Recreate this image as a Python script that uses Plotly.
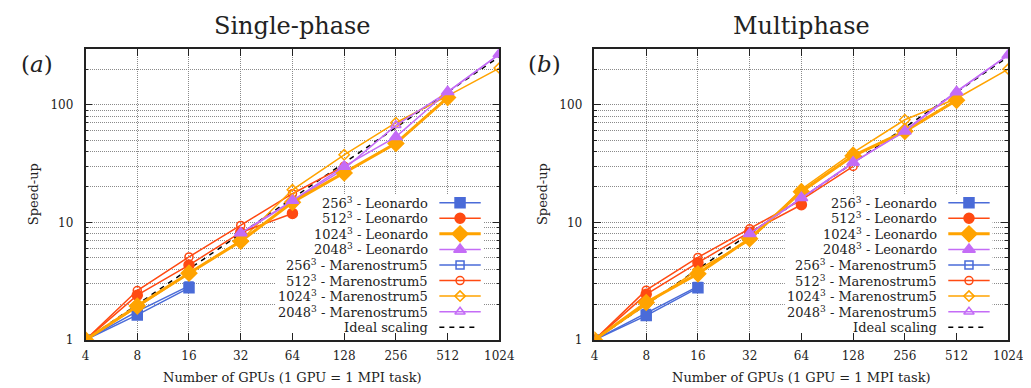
import plotly.graph_objects as go
import math

# ---------------- data ----------------
GPUS = [4, 8, 16, 32, 64, 128, 256, 512, 1024]
X_TICK_LABELS = ["4", "8", "16", "32", "64", "128", "256", "512", "1024"]
Y_TICKS = [1, 10, 100]
Y_MINOR = [2, 3, 4, 5, 6, 7, 8, 9, 20, 30, 40, 50, 60, 70, 80, 90, 200]

IDEAL_X = [4, 8, 16, 32, 64, 128, 256, 512, 1024]
IDEAL_Y = [1, 2, 4, 8, 16, 32, 64, 128, 256]

# Single-phase
sp_x_256 = [4, 8, 16]
sp_256_leo = [1, 1.63, 2.77]
sp_256_mn5 = [1, 1.75, 2.88]
sp_x_512_leo = [4, 8, 16, 32, 64]
sp_512_leo = [1, 2.40, 4.33, 8.2, 11.9]
sp_x_512_mn5 = [4, 8, 16, 32, 64, 128]
sp_512_mn5 = [1, 2.63, 5.08, 9.4, 17.5, 30.0]
sp_x_1024_leo = [4, 8, 16, 32, 64, 128, 256, 512]
sp_1024_leo = [1, 1.94, 3.69, 6.9, 14.8, 26.3, 46.9, 115]
sp_x_1024_mn5 = [4, 8, 16, 32, 64, 128, 256, 512, 1024]
sp_1024_mn5 = [1, 1.90, 3.70, 7.0, 18.9, 37.5, 70.3, 119, 205]
sp_x_2048 = [32, 64, 128, 256, 512, 1024]
sp_2048_leo = [8.1, 15.3, 29.9, 53.3, 129, 270]
sp_2048_mn5 = [8.0, 15.0, 28.5, 66.8, 128, 268]

# Multiphase
mp_x_256 = [4, 8, 16]
mp_256_leo = [1, 1.61, 2.77]
mp_256_mn5 = [1, 1.68, 2.85]
mp_x_512_leo = [4, 8, 16, 32, 64]
mp_512_leo = [1, 2.44, 4.54, 8.25, 14.1]
mp_x_512_mn5 = [4, 8, 16, 32, 64, 128]
mp_512_mn5 = [1, 2.65, 5.03, 8.8, 15.5, 29.9]
mp_x_1024_leo = [4, 8, 16, 32, 64, 128, 256, 512]
mp_1024_leo = [1, 2.08, 3.65, 7.26, 18.2, 36.8, 59.4, 109]
mp_x_1024_mn5 = [4, 8, 16, 32, 64, 128, 256, 512, 1024]
mp_1024_mn5 = [1, 2.00, 3.95, 7.0, 19.1, 39.2, 74.5, 113, 201]
mp_x_2048 = [32, 64, 128, 256, 512, 1024]
mp_2048_leo = [8.0, 16.2, 32.4, 59.4, 128.5, 265]
mp_2048_mn5 = [8.0, 16.0, 32.0, 60.5, 130, 265]

LEGEND_LABELS = [
    "256<sup>3</sup> - Leonardo",
    "512<sup>3</sup> - Leonardo",
    "1024<sup>3</sup> - Leonardo",
    "2048<sup>3</sup> - Leonardo",
    "256<sup>3</sup> - Marenostrum5",
    "512<sup>3</sup> - Marenostrum5",
    "1024<sup>3</sup> - Marenostrum5",
    "2048<sup>3</sup> - Marenostrum5",
    "Ideal scaling",
]

# ---------------- styles ----------------
BLUE = "#4a6bd8"
RED = "#ff4a12"
ORANGE = "#ffa300"
PURPLE = "#c46cf6"
FONT = "DejaVu Serif"
TXT = "#222"
GRID = "#8a8a8a"

STYLES = [
    dict(color=BLUE, symbol="square", size=10, width=1.5),
    dict(color=RED, symbol="circle", size=10, width=1.5),
    dict(color=ORANGE, symbol="diamond", size=12, width=3),
    dict(color=PURPLE, symbol="triangle-up", size=11, width=1.5),
    dict(color=BLUE, symbol="square-open", size=8, width=1.5),
    dict(color=RED, symbol="circle-open", size=8, width=1.5),
    dict(color=ORANGE, symbol="diamond-open", size=8, width=1.5),
    dict(color=PURPLE, symbol="triangle-up-open", size=9, width=1.5),
]

W, H = 1031, 388
PLOT_TOP, PLOT_BOT = 42, 338
PANELS = [
    dict(left=75, right=497, title="Single-phase", tag="(<i>a</i>)", tagx=25,
         series=[(sp_x_256, sp_256_leo), (sp_x_512_leo, sp_512_leo),
                 (sp_x_1024_leo, sp_1024_leo), (sp_x_2048, sp_2048_leo),
                 (sp_x_256, sp_256_mn5), (sp_x_512_mn5, sp_512_mn5),
                 (sp_x_1024_mn5, sp_1024_mn5), (sp_x_2048, sp_2048_mn5)]),
    dict(left=594, right=1016, title="Multiphase", tag="(<i>b</i>)", tagx=543,
         series=[(mp_x_256, mp_256_leo), (mp_x_512_leo, mp_512_leo),
                 (mp_x_1024_leo, mp_1024_leo), (mp_x_2048, mp_2048_leo),
                 (mp_x_256, mp_256_mn5), (mp_x_512_mn5, mp_512_mn5),
                 (mp_x_1024_mn5, mp_1024_mn5), (mp_x_2048, mp_2048_mn5)]),
]

fig = go.Figure()
ydom = [1 - PLOT_BOT / H, 1 - PLOT_TOP / H]
annotations = []

XLOG = [math.log10(4), math.log10(1024)]
YTOP = 2 + (98.5 - PLOT_TOP) / 119.75


def frac_to_data(fx, fy):
    """domain fraction -> data value on the log axes"""
    return (10 ** (XLOG[0] + fx * (XLOG[1] - XLOG[0])), 10 ** (fy * YTOP))


for i, p in enumerate(PANELS):
    xd = [p["left"] / W, p["right"] / W]
    xa = "x" if i == 0 else "x2"
    ya = "y" if i == 0 else "y2"
    lxa = "x%d" % (3 + i)
    lya = "y%d" % (3 + i)
    ax_common = dict(
        showline=True, linecolor="#222", linewidth=1.6, mirror="ticks",
        ticks="inside", ticklen=7, tickwidth=1, tickcolor="#222",
        showgrid=True, gridcolor=GRID, griddash="1px,1px", gridwidth=1,
        zeroline=False, tickfont=dict(family=FONT, size=12, color=TXT),
    )
    layout_x = dict(type="log", domain=xd, range=XLOG,
                    tickvals=GPUS, ticktext=X_TICK_LABELS, anchor=ya,
                    ticklabelstandoff=4, **ax_common)
    layout_y = dict(type="log", domain=ydom, range=[0, YTOP], tickvals=Y_TICKS,
                    ticktext=[str(v) for v in Y_TICKS], anchor=xa,
                    ticklabelstandoff=8,
                    minor=dict(tickvals=Y_MINOR, ticks="inside", ticklen=3,
                               showgrid=True, gridcolor=GRID, griddash="1px,1px",
                               tickcolor="#222"),
                    **ax_common)
    fig.update_layout({("xaxis" if i == 0 else "xaxis2"): layout_x,
                       ("yaxis" if i == 0 else "yaxis2"): layout_y})
    # overlay axes for the legend (no background of their own)
    fig.update_layout({
        "xaxis%d" % (3 + i): dict(range=[0, 1], visible=False, anchor=lya,
                                   overlaying=xa, fixedrange=True),
        "yaxis%d" % (3 + i): dict(range=[0, 1], visible=False, anchor=lxa,
                                   overlaying=ya, fixedrange=True),
    })

    # legend box: white fill drawn first (above grid, below data)
    bx0, by0 = frac_to_data(0.46, 0.015)
    bx1, by1 = frac_to_data(0.962, 0.5)
    fig.add_trace(go.Scatter(x=[bx0, bx1, bx1, bx0, bx0], y=[by0, by0, by1, by1, by0],
                             mode="lines", fill="toself", fillcolor="white",
                             line=dict(width=0, color="white"), xaxis=xa, yaxis=ya,
                             showlegend=False, hoverinfo="skip"))

    # ideal scaling
    fig.add_trace(go.Scatter(x=IDEAL_X, y=IDEAL_Y, mode="lines", xaxis=xa, yaxis=ya,
                             line=dict(color="black", width=1.5, dash="5px,5px"),
                             showlegend=False, hoverinfo="skip"))
    # data series (MN5 first then Leonardo on top)
    order = [4, 5, 6, 7, 0, 1, 2, 3]
    for k in order:
        xs, ys = p["series"][k]
        st = STYLES[k]
        fig.add_trace(go.Scatter(
            x=xs, y=ys, mode="lines+markers", xaxis=xa, yaxis=ya,
            line=dict(color=st["color"], width=st["width"]),
            marker=dict(symbol=st["symbol"], size=st["size"], color=st["color"],
                        line=dict(color=st["color"], width=1.5)),
            showlegend=False))

    # legend entries
    row0, dy = 198.3, 15.85
    for r, lab in enumerate(LEGEND_LABELS):
        ypix = row0 + dy * r
        yy = (PLOT_BOT - ypix) / (PLOT_BOT - PLOT_TOP)
        annotations.append(dict(text=lab, x=0.832, y=yy, xref=lxa, yref=lya,
                                xanchor="right", yanchor="middle", showarrow=False,
                                font=dict(family=FONT, size=13, color=TXT)))
        if r < 8:
            st = STYLES[r]
            fig.add_trace(go.Scatter(x=[0.855, 0.955], y=[yy, yy], mode="lines",
                                     xaxis=lxa, yaxis=lya, showlegend=False,
                                     hoverinfo="skip",
                                     line=dict(color=st["color"], width=st["width"])))
            fig.add_trace(go.Scatter(x=[0.905], y=[yy], mode="markers",
                                     xaxis=lxa, yaxis=lya, showlegend=False,
                                     hoverinfo="skip",
                                     marker=dict(symbol=st["symbol"], size=st["size"],
                                                 color=st["color"],
                                                 line=dict(color=st["color"], width=1.5))))
        else:
            fig.add_trace(go.Scatter(x=[0.855, 0.945], y=[yy, yy], mode="lines",
                                     xaxis=lxa, yaxis=lya, showlegend=False,
                                     hoverinfo="skip",
                                     line=dict(color="black", width=1.5, dash="5px,5px")))

    cx = (p["left"] + p["right"]) / 2 / W
    annotations.append(dict(text=p["title"], x=cx, y=1 - 18 / H, xref="paper",
                            yref="paper", showarrow=False, xanchor="center",
                            yanchor="middle",
                            font=dict(family=FONT, size=24, color=TXT)))
    annotations.append(dict(text=p["tag"], x=p["tagx"] / W, y=1 - 57 / H, xref="paper",
                            yref="paper", showarrow=False, xanchor="center",
                            yanchor="middle",
                            font=dict(family=FONT, size=23, color=TXT)))
    annotations.append(dict(text="Number of GPUs (1 GPU = 1 MPI task)", x=cx,
                            y=1 - 376 / H, xref="paper", yref="paper", showarrow=False,
                            xanchor="center", yanchor="middle",
                            font=dict(family=FONT, size=13, color=TXT)))
    annotations.append(dict(text="Speed-up", x=(p["left"] - 53) / W, y=1 - 190 / H,
                            xref="paper", yref="paper", showarrow=False, textangle=-90,
                            xanchor="center", yanchor="middle",
                            font=dict(family=FONT, size=13, color=TXT)))

fig.update_layout(
    width=W, height=H,
    margin=dict(l=0, r=0, t=0, b=0),
    paper_bgcolor="white", plot_bgcolor="white",
    showlegend=False,
    annotations=annotations,
)

fig.write_html("out.html")
